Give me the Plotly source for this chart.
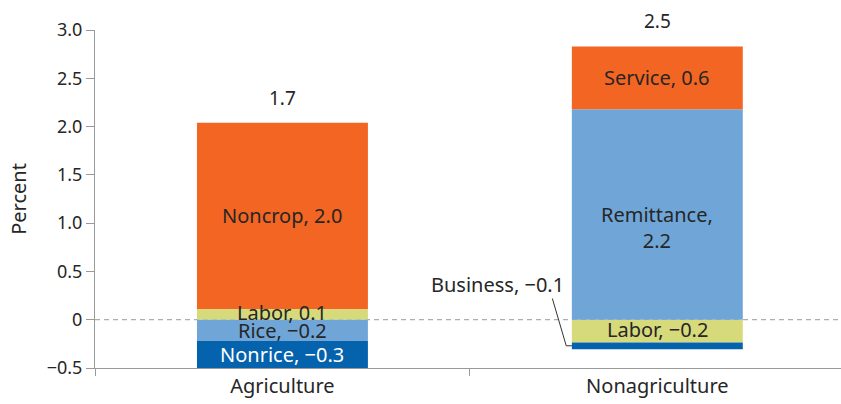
import plotly.graph_objects as go

categories = ["Agriculture", "Nonagriculture"]

# segment values per category (None = not present)
labor = [0.11, -0.235]
noncrop = [1.93, None]
rice = [-0.22, None]
nonrice = [-0.28, None]
remittance = [None, 2.18]
service = [None, 0.65]
business = [None, -0.07]

labor_text = ["Labor, 0.1", "Labor, \u22120.2"]
noncrop_text = ["Noncrop, 2.0", None]
rice_text = ["Rice, \u22120.2", None]
nonrice_text = ["Nonrice, \u22120.3", None]
remittance_text = [None, "Remittance,<br>2.2"]
service_text = [None, "Service, 0.6"]
business_text = [None, "Business, \u22120.1"]

total_text = ["1.7", "2.5"]

tick_vals = [-0.5, 0, 0.5, 1.0, 1.5, 2.0, 2.5, 3.0]
tick_text = ["\u22120.5", "0", "0.5", "1.0", "1.5", "2.0", "2.5", "3.0"]

ORANGE = "#F26522"
LIGHT_BLUE = "#6FA6D7"
YELLOW = "#D6DA7B"
DARK_BLUE = "#0562AC"
TEXT = "#262626"
FONT = "Noto Sans"

series = [
    ("Labor", labor, labor_text, YELLOW, TEXT),
    ("Rice", rice, rice_text, LIGHT_BLUE, TEXT),
    ("Nonrice", nonrice, nonrice_text, DARK_BLUE, "white"),
    ("Business", business, business_text, DARK_BLUE, TEXT),
    ("Noncrop", noncrop, noncrop_text, ORANGE, TEXT),
    ("Remittance", remittance, remittance_text, LIGHT_BLUE, TEXT),
    ("Service", service, service_text, ORANGE, TEXT),
]
# small nudges (px) for labels that sit off the segment middle
label_shift = {"Remittance": -13, "Labor": 2}

fig = go.Figure()
for name, vals, _, color, _ in series:
    fig.add_trace(go.Bar(
        x=categories, y=vals, name=name,
        marker=dict(color=color, line=dict(width=0)),
        showlegend=False, hoverinfo="skip",
    ))

# segment labels at segment midpoints (relative stacking)
pos_base = [0.0, 0.0]
neg_base = [0.0, 0.0]
for name, vals, texts, color, tcolor in series:
    for i, v in enumerate(vals):
        if v is None:
            continue
        if v >= 0:
            lo, hi = pos_base[i], pos_base[i] + v
            pos_base[i] = hi
        else:
            hi, lo = neg_base[i], neg_base[i] + v
            neg_base[i] = lo
        if name == "Business":
            continue
        fig.add_annotation(
            x=categories[i], y=(lo + hi) / 2, text=texts[i], showarrow=False,
            yshift=label_shift.get(name, 0),
            font=dict(family=FONT, size=20, color=tcolor),
        )

# totals above the bars
for i, t in enumerate(total_text):
    fig.add_annotation(
        x=categories[i], y=pos_base[i], text=t, showarrow=False,
        yanchor="middle", yshift=25,
        font=dict(family=FONT, size=19, color=TEXT),
    )

# business label with leader line
bus_low = neg_base[1] + 0.035
fig.add_shape(
    type="path", xref="x", yref="y",
    path=f"M 0.72 0.22 L 0.757 {bus_low} L 0.772 {bus_low}",
    line=dict(color="#333333", width=1),
)
fig.add_annotation(
    x=0.573, y=0.36, xref="x", yref="y", text=business_text[1], showarrow=False,
    font=dict(family=FONT, size=20, color=TEXT),
)

# dashed zero line
fig.add_shape(
    type="line", xref="paper", yref="y", x0=0, x1=1, y0=0, y1=0,
    line=dict(color="#9a9a9a", width=1, dash="5px,4px"), layer="below",
)

fig.update_layout(
    barmode="relative",
    bargap=0.544,
    width=841, height=404,
    margin=dict(l=95, r=0, t=30, b=36),
    plot_bgcolor="white", paper_bgcolor="white",
    font=dict(family=FONT, size=18, color=TEXT),
)
fig.update_xaxes(
    range=[-0.5, 1.49], showgrid=False, showline=True, linecolor="#9a9a9a",
    ticks="outside", tickson="boundaries", ticklen=7, tickcolor="#9a9a9a",
    tickfont=dict(family=FONT, size=20, color=TEXT), automargin=False,
)
fig.update_yaxes(
    range=[-0.5, 3.0], tickvals=tick_vals, ticktext=tick_text,
    showgrid=False, zeroline=False, showline=True, linecolor="#9a9a9a",
    ticks="outside", ticklen=8, tickcolor="#9a9a9a",
    tickfont=dict(family=FONT, size=18, color=TEXT), automargin=False,
    title=dict(text="Percent", standoff=14, font=dict(family=FONT, size=20, color=TEXT)),
)

# drop the default body margin so the figure fills the window exactly
fig.write_html(
    "out.html",
    config={"displayModeBar": False},
    post_script="document.body.style.margin='0';",
)
